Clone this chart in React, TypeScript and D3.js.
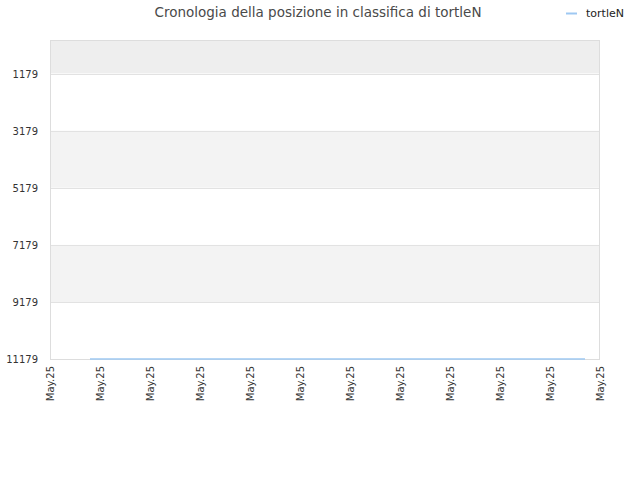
import * as d3 from 'd3';
import { useRef, useEffect } from 'react';

const title = 'Cronologia della posizione in classifica di tortleN';
const seriesName = 'tortleN';
const yTicks = [1179, 3179, 5179, 7179, 9179, 11179];
const xTickDates = d3.range(12).map((i) => new Date(2025, 4, 1 + i));
const rankDates = [new Date(2025, 4, 1, 19, 12), new Date(2025, 4, 11, 16, 48)];
const rankValues = [11179, 11179];

export default function App() {
  const svgRef = useRef<SVGSVGElement>(null);

  useEffect(() => {
    if (!svgRef.current) return;
    const svg = d3.select(svgRef.current);
    svg.selectAll('*').remove();

    const margin = { top: 40, right: 40, bottom: 120, left: 50 };
    const width = 640 - margin.left - margin.right;
    const height = 480 - margin.top - margin.bottom;
    const font = 'DejaVu Sans, sans-serif';

    const x = d3.scaleTime()
      .domain([xTickDates[0], xTickDates[xTickDates.length - 1]])
      .range([0, width]);
    const y = d3.scaleLinear().domain([0, 11179]).range([0, height - 1]);

    svg.append('text')
      .attr('x', 318).attr('y', 17)
      .attr('text-anchor', 'middle')
      .attr('font-family', font).attr('font-size', 13.5)
      .attr('fill', '#4a4a4a')
      .text(title);

    // Legend
    svg.append('line')
      .attr('x1', 566).attr('x2', 577).attr('y1', 13.5).attr('y2', 13.5)
      .attr('stroke', '#9ec8f2').attr('stroke-width', 2);
    svg.append('text')
      .attr('x', 586).attr('y', 17)
      .attr('font-family', font).attr('font-size', 11)
      .attr('fill', '#222')
      .text(seriesName);

    const g = svg.append('g').attr('transform', `translate(${margin.left},${margin.top})`);

    // Bands
    const edges = [0, ...yTicks];
    edges.slice(0, -1).forEach((v, i) => {
      const fill = i === 0 ? '#eeeeee' : i % 2 === 0 ? '#f3f3f3' : '#ffffff';
      g.append('rect')
        .attr('x', 0).attr('y', y(v))
        .attr('width', width).attr('height', y(edges[i + 1]) - y(v))
        .attr('fill', fill);
    });

    // Grid lines
    yTicks.forEach((v) => {
      g.append('line')
        .attr('x1', 0).attr('x2', width)
        .attr('y1', Math.round(y(v)) + 0.5).attr('y2', Math.round(y(v)) + 0.5)
        .attr('stroke', '#e2e2e2');
    });

    // Frame
    g.append('rect')
      .attr('x', 0.5).attr('y', 0.5)
      .attr('width', width - 1).attr('height', height - 1)
      .attr('fill', 'none').attr('stroke', '#dddddd');

    // Line
    const line = d3.line<number>()
      .x((_, i) => x(rankDates[i]))
      .y((d) => y(d));
    g.append('path')
      .datum(rankValues)
      .attr('fill', 'none')
      .attr('stroke', '#9ec8f2')
      .attr('stroke-width', 1.5)
      .attr('d', line as unknown as string);

    // Y labels
    yTicks.forEach((v) => {
      g.append('text')
        .attr('x', -12).attr('y', y(v) + 4)
        .attr('text-anchor', 'end')
        .attr('font-family', font).attr('font-size', 10)
        .attr('fill', '#333')
        .text(String(v));
    });

    // X labels
    xTickDates.forEach((d) => {
      const px = x(d);
      g.append('text')
        .attr('transform', `translate(${px + 4},${height + 6}) rotate(-90)`)
        .attr('text-anchor', 'end')
        .attr('font-family', font).attr('font-size', 10)
        .attr('fill', '#333')
        .text(d3.timeFormat('%b.%y')(d));
    });
  }, []);

  return (
    <div style={{ position: 'absolute', left: 0, top: 0, width: 640, height: 480 }}>
      <svg ref={svgRef} width={640} height={480} style={{ display: 'block' }} />
    </div>
  );
}
